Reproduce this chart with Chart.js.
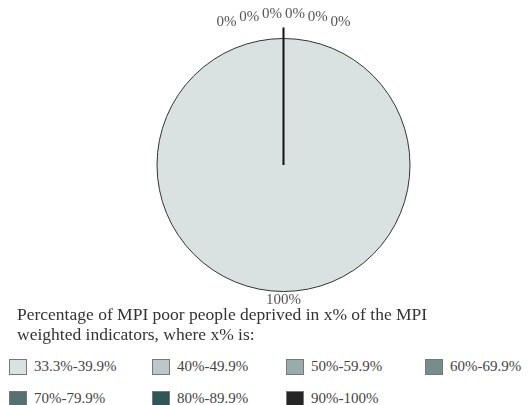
<!DOCTYPE html>
<html>
<head>
<meta charset="utf-8">
<script src="https://cdn.jsdelivr.net/npm/chart.js@4"></script>
<style>
  html, body { margin: 0; padding: 0; background: #fff; }
  #wrap { position: relative; width: 531px; height: 405px; overflow: hidden; font-family: "Liberation Serif", "DejaVu Serif", serif; }
  #pie-box { position: absolute; left: 0; top: 0; width: 531px; height: 320px; }
  #title { position: absolute; left: 17px; top: 304px; font-size: 17.5px; line-height: 20px; color: #333; }
  .item { position: absolute; font-size: 15px; color: #444; white-space: nowrap; }
  .item span.box { position: absolute; left: 0; top: 1px; width: 16px; height: 14px; border: 1px solid #777; }
  .item span.txt { position: absolute; left: 25px; top: 0; }
</style>
</head>
<body>
<div id="wrap">
  <div id="pie-box"><canvas id="main-chart"></canvas></div>
  <div id="title">Percentage of MPI poor people deprived in x% of the MPI<br>weighted indicators, where x% is:</div>
  <div id="legend"></div>
</div>
<script>
// categories and values
const categories = ["33.3%-39.9%", "40%-49.9%", "50%-59.9%", "60%-69.9%", "70%-79.9%", "80%-89.9%", "90%-100%"];
const shares = [100, 0, 0, 0, 0, 0, 0];
const sliceColors = ["#dae2e1", "#bcc8c8", "#99abac", "#768c8d", "#577172", "#305657", "#262626"];
const legendCols = [9, 152, 286, 425];
const legendRows = [358, 390];
const serifFont = "'Liberation Serif', 'DejaVu Serif', serif";

// legend drawn as html, 4 per row
const legendEl = document.getElementById("legend");
categories.forEach((cat, i) => {
    const item = document.createElement("div");
    item.className = "item";
    item.style.left = legendCols[i % 4] + "px";
    item.style.top = legendRows[Math.floor(i / 4)] + "px";
    item.innerHTML = '<span class="box" style="background:' + sliceColors[i] + '"></span><span class="txt">' + cat + "</span>";
    legendEl.appendChild(item);
});

// percent labels around the pie, zero slices fanned out above the top
const pieLabels = {
    id: "pieLabels",
    afterDatasetsDraw(chart) {
        const ctx = chart.ctx;
        const arcs = chart.getDatasetMeta(0).data;
        const zeros = [];
        arcs.forEach((arc, i) => { if (shares[i] === 0) zeros.push(i); });
        ctx.save();
        ctx.font = "15px " + serifFont;
        ctx.fillStyle = "#555";
        ctx.textAlign = "center";
        ctx.textBaseline = "middle";
        arcs.forEach((arc, i) => {
            const mid = (arc.startAngle + arc.endAngle) / 2;
            const r = arc.outerRadius;
            if (shares[i] === 0) {
                const d = zeros.indexOf(i) - (zeros.length - 1) / 2;
                const x = arc.x + Math.cos(mid) * (r + 25) + d * 22.8;
                const y = arc.y + Math.sin(mid) * (r + 25) + d * d * 1.4;
                ctx.fillText(shares[i] + "%", x, y);
            } else {
                ctx.fillText(shares[i] + "%", arc.x + Math.cos(mid) * (r + 9), arc.y + Math.sin(mid) * (r + 9));
            }
        });
        // leader line for the zero slices
        if (zeros.length) {
            const a = arcs[zeros[0]];
            ctx.strokeStyle = "#111";
            ctx.lineWidth = 2;
            ctx.beginPath();
            ctx.moveTo(a.x, a.y);
            ctx.lineTo(a.x + Math.cos(a.startAngle) * (a.outerRadius + 11), a.y + Math.sin(a.startAngle) * (a.outerRadius + 11));
            ctx.stroke();
        }
        ctx.restore();
    }
};

new Chart(document.getElementById("main-chart"), {
    type: "pie",
    data: {
        labels: categories,
        datasets: [
            {
                data: shares,
                backgroundColor: sliceColors,
                borderColor: "#333",
                borderWidth: 1,
            },
        ],
    },
    options: {
        responsive: true,
        maintainAspectRatio: false,
        animation: false,
        layout: {
            padding: { top: 38, bottom: 28, left: 36, right: 0 },
        },
        plugins: {
            legend: { display: false },
            tooltip: { enabled: false },
        },
    },
    plugins: [pieLabels],
});
</script>
</body>
</html>
